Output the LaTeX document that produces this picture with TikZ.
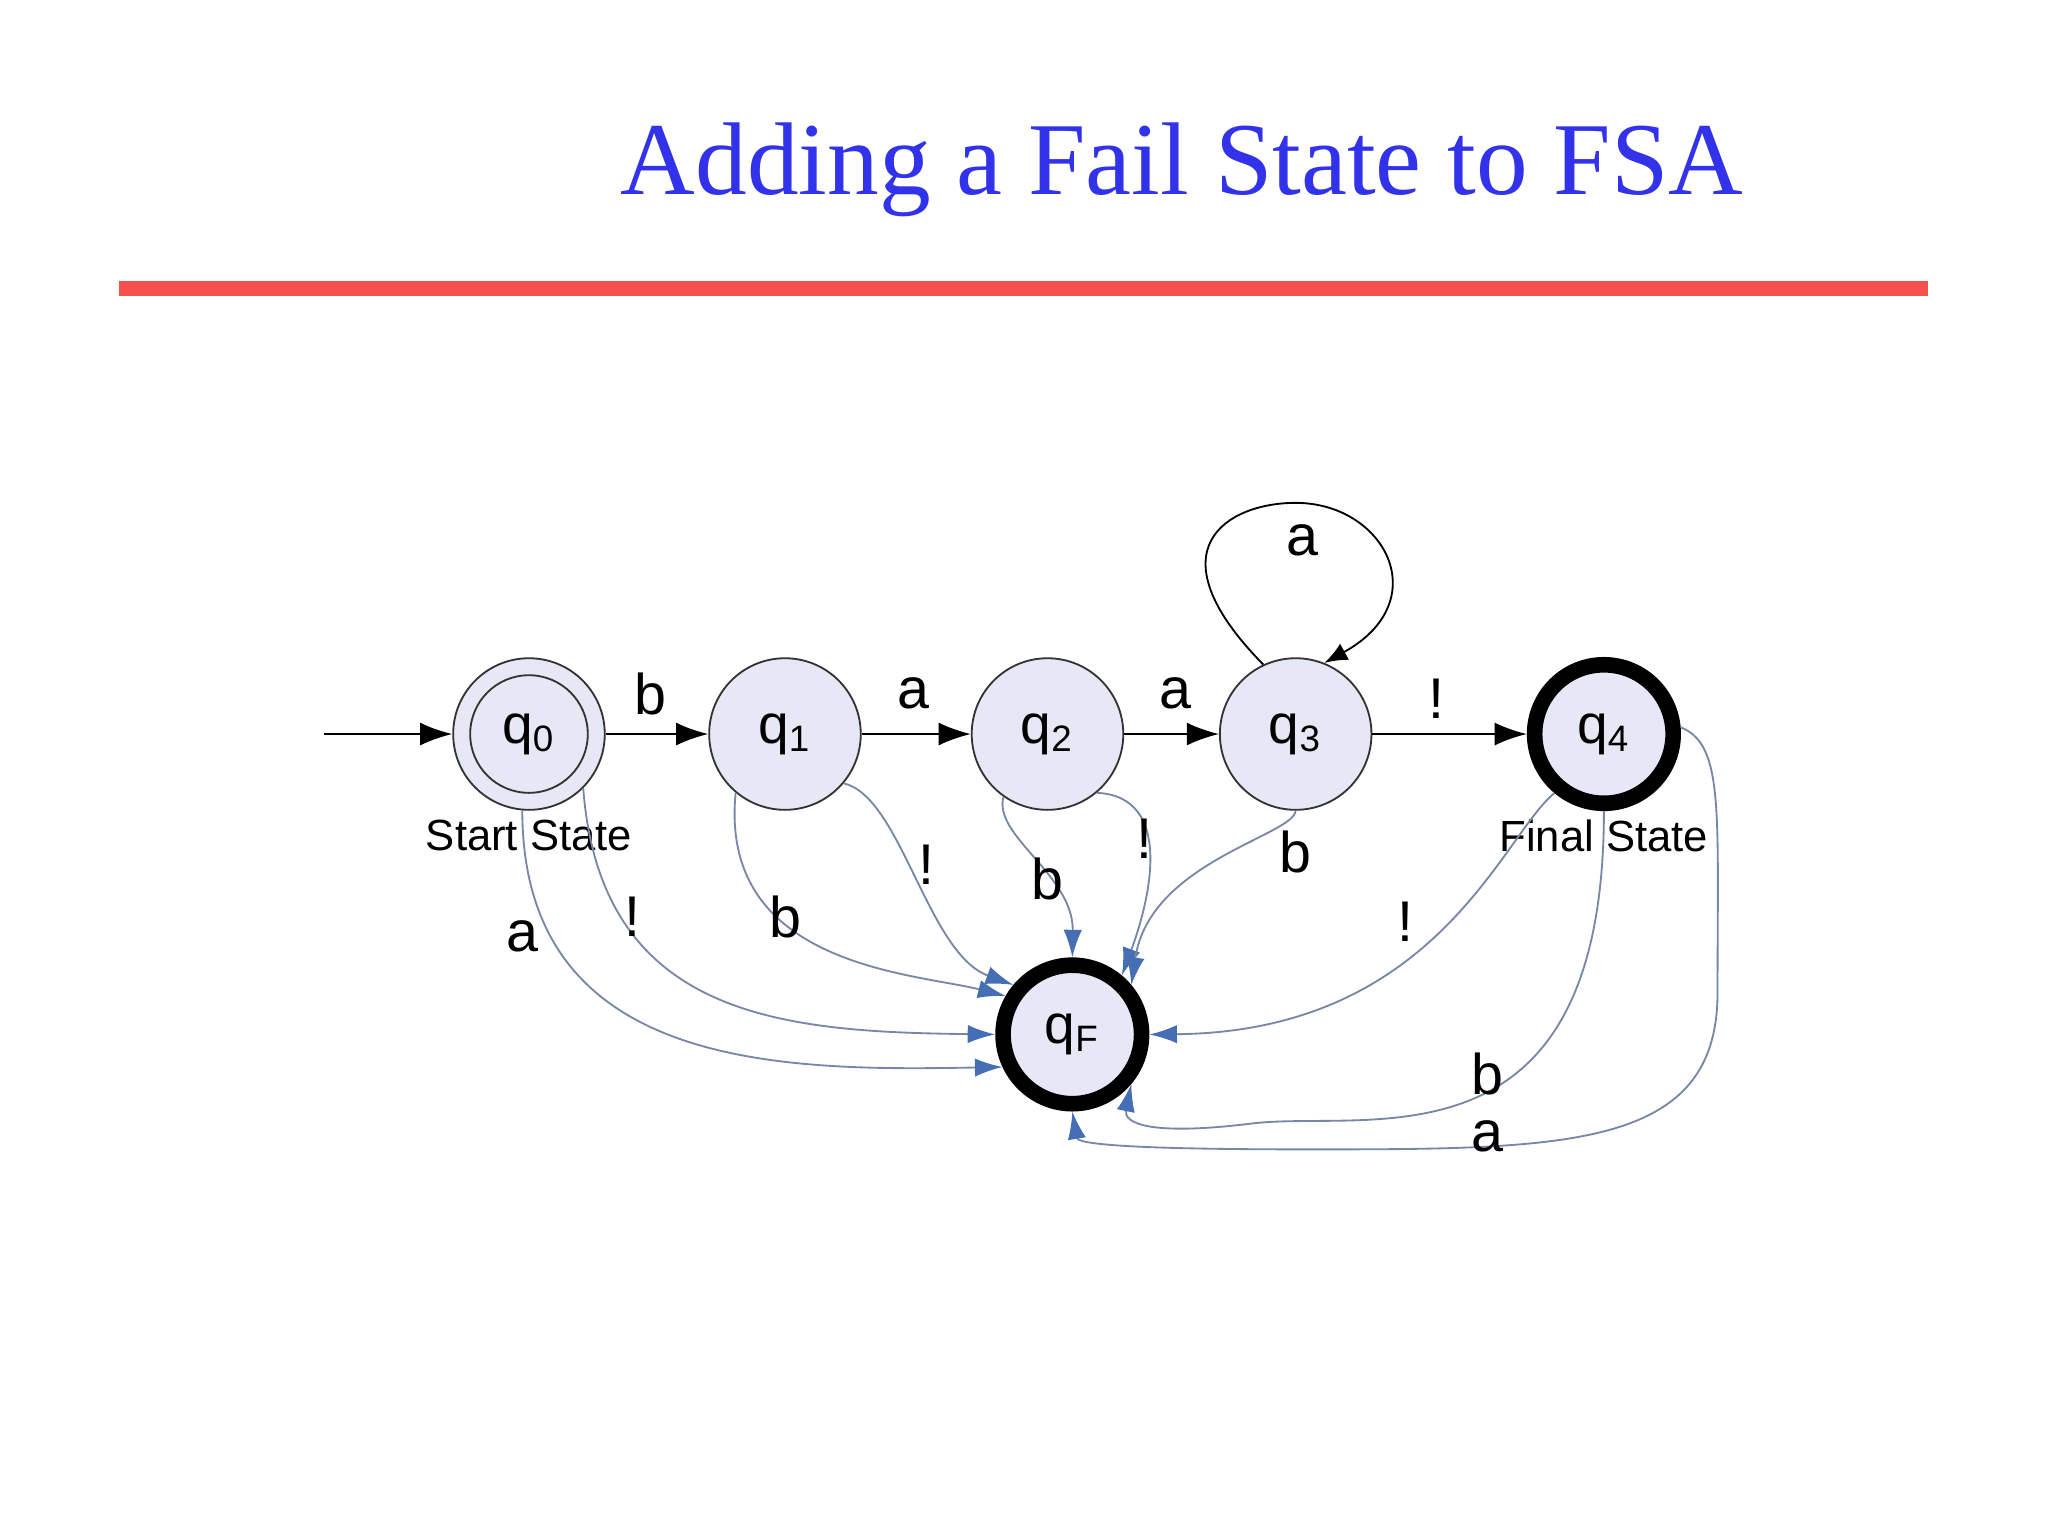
\documentclass[tikz,border=0pt]{standalone}
\usepackage{fontspec}
\setmainfont{Liberation Sans}
\newfontfamily\titlefont{Liberation Serif}
\usetikzlibrary{arrows.meta}
\definecolor{stateFill}{RGB}{230,232,245}
\definecolor{failEdge}{RGB}{120,135,165}
\definecolor{failTip}{RGB}{70,110,180}
\definecolor{titleBlue}{RGB}{50,50,235}
\definecolor{ruleRed}{RGB}{245,80,75}
\begin{document}
\begin{tikzpicture}[x=0.01cm, y=-0.01cm,
    state/.style={draw=black!80, circle, fill=stateFill, minimum size=1.16cm, inner sep=0pt, font=\fontsize{12}{12}\selectfont},
    final/.style={state, line width=3.4pt, draw=black, minimum size=1.06cm},
    move/.style={-{Latex[length=7pt,width=5pt]}, black},
    fail/.style={-{Latex[length=6pt,width=4pt,color=failTip]}, failEdge},
    lbl/.style={font=\fontsize{12.5}{12.5}\selectfont}]

    % frame
    \useasboundingbox (0,0) rectangle (1568,1176);
    \node[font=\titlefont\fontsize{22.5}{22.5}\selectfont, text=titleBlue] (title) at (905,130) {Adding a Fail State to FSA};
    \fill[ruleRed] (91,215) rectangle (1476,227);

    % states
    \node[state] (q0) at (405,562) {};
    \node[state, minimum size=0.9cm] (q0in) at (405,562) {q\textsubscript{0}};
    \node[state] (q1) at (601,562) {q\textsubscript{1}};
    \node[state] (q2) at (802,562) {q\textsubscript{2}};
    \node[state] (q3) at (992,562) {q\textsubscript{3}};
    \node[final] (q4) at (1228,562) {q\textsubscript{4}};
    \node[final] (qF) at (821,792) {q\textsubscript{F}};
    \node[font=\fontsize{9.5}{9.5}\selectfont] (startText) at (405,640) {Start State};
    \node[font=\fontsize{9.5}{9.5}\selectfont] (finalText) at (1228,640) {Final State};

    % main path
    \coordinate (in) at (248,562);
    \draw[move] (in) -- (q0);
    \draw[move] (q0) -- (q1);
    \draw[move] (q1) -- (q2);
    \draw[move] (q2) -- (q3);
    \draw[move] (q3) -- (q4);
    \draw[-{Latex[length=5pt,width=4pt]}, thin] (q3.115) .. controls (880,420) and (940,385) .. (992,385) .. controls (1060,385) and (1100,460) .. (q3.68);
    \node[lbl] (lb01) at (498,531) {b};
    \node[lbl] (la12) at (699,531) {a};
    \node[lbl] (la23) at (900,531) {a};
    \node[lbl] (lx34) at (1100,535) {!};
    \node[lbl] (la33) at (997,414) {a};

    % fail edges from q0 and q1
    \draw[fail] (q0.265) .. controls (400,820) and (600,820) .. (qF.205);
    \draw[fail] (q0.315) .. controls (460,780) and (600,790) .. (qF.180);
    \draw[fail] (q1.230) .. controls (550,740) and (700,745) .. (qF.150);
    \draw[fail] (q1.320) .. controls (690,610) and (710,730) .. (qF.140);
    \node[lbl] (la0F) at (400,717) {a};
    \node[lbl] (lx0F) at (484,702) {!};
    \node[lbl] (lb1F) at (601,702) {b};
    \node[lbl] (lx1F) at (709,662) {!};

    % fail edges from q2 and q3
    \draw[fail] (q2.235) .. controls (760,640) and (822,670) .. (qF.north);
    \draw[fail] (q2.310) .. controls (900,610) and (880,690) .. (qF.50);
    \draw[fail] (q3.270) .. controls (990,640) and (880,660) .. (qF.40);
    \node[lbl] (lb2F) at (802,673) {b};
    \node[lbl] (lx2F) at (876,642) {!};
    \node[lbl] (lb3F) at (992,652) {b};

    % fail edges from q4
    \draw[fail] (q4.230) .. controls (1150,640) and (1100,790) .. (qF.east);
    \draw[fail] (q4.270) .. controls (1228,900) and (1050,850) .. (960,860) .. controls (880,870) and (860,860) .. (qF.320);
    \draw[fail] (q4.5) .. controls (1320,570) and (1315,620) .. (1315,760) .. controls (1315,880) and (1200,880) .. (1000,880) .. controls (850,880) and (825,875) .. (qF.270);
    \node[lbl] (lx4F) at (1076,706) {!};
    \node[lbl] (lb4F) at (1139,822) {b};
    \node[lbl] (la4F) at (1139,870) {a};

\end{tikzpicture}
\end{document}
